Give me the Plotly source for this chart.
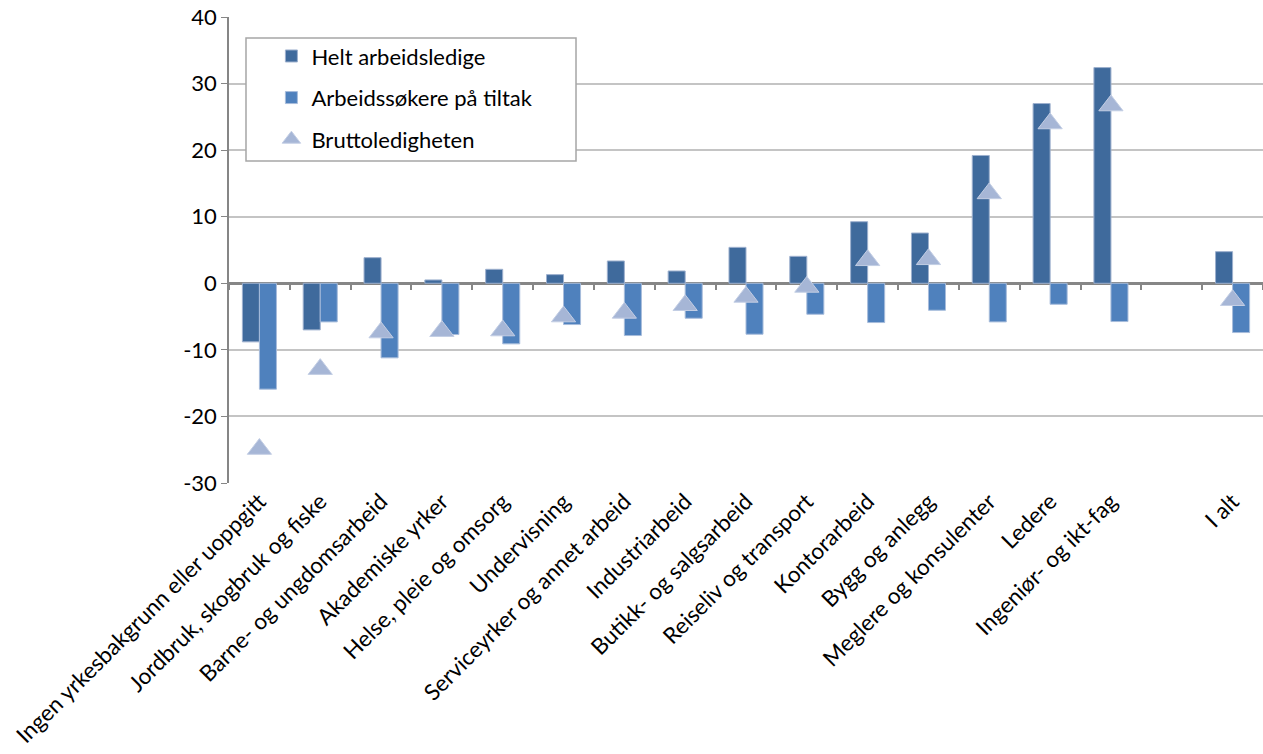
import plotly.graph_objects as go

categories = [
    "Ingen yrkesbakgrunn eller uoppgitt",
    "Jordbruk, skogbruk og fiske",
    "Barne- og ungdomsarbeid",
    "Akademiske yrker",
    "Helse, pleie og omsorg",
    "Undervisning",
    "Serviceyrker og annet arbeid",
    "Industriarbeid",
    "Butikk- og salgsarbeid",
    "Reiseliv og transport",
    "Kontorarbeid",
    "Bygg og anlegg",
    "Meglere og konsulenter",
    "Ledere",
    "Ingeniør- og ikt-fag",
    " ",
    "I alt",
]
helt = [-8.8, -7.0, 3.85, 0.5, 2.1, 1.3, 3.35, 1.85, 5.4, 4.05, 9.25, 7.55, 19.2, 27.0, 32.4, None, 4.75]
tiltak = [-15.9, -5.8, -11.2, -7.7, -9.1, -6.2, -7.85, -5.25, -7.65, -4.65, -5.9, -4.05, -5.8, -3.15, -5.75, None, -7.4]
brutto = [-24.9, -12.9, -7.4, -7.2, -7.1, -5.0, -4.45, -3.3, -2.05, -0.55, 3.45, 3.6, 13.5, 24.0, 26.7, None, -2.55]
yticks = [-30, -20, -10, 0, 10, 20, 30, 40]

FONT = "Lato"
xrange = [-0.5, len(categories) - 0.5]

fig = go.Figure()
fig.add_trace(go.Bar(
    x=categories, y=helt, name="Helt arbeidsledige", legendgroup="a",
    marker=dict(color="#3F6A9C", line=dict(color="#9DB0CE", width=1)),
))
fig.add_trace(go.Bar(
    x=categories, y=tiltak, name="Arbeidssøkere på tiltak", legendgroup="b",
    marker=dict(color="#4F81BD", line=dict(color="#A7BCDB", width=1)),
))
fig.add_trace(go.Scatter(
    x=categories, y=brutto, name="Bruttoledigheten", legendgroup="c",
    mode="markers",
    marker=dict(symbol="triangle-up", size=21, color="#A6B6D6",
                line=dict(color="#C3CEE4", width=1)),
))
# invisible trace to carry tick marks along zero line
fig.add_trace(go.Scatter(
    x=categories, y=[0] * len(categories), xaxis="x2", mode="markers",
    marker=dict(opacity=0), showlegend=False, hoverinfo="skip",
))

# legend frame (white box with grey border)
fig.add_shape(
    type="rect", xref="paper", yref="paper",
    x0=0.01644, x1=0.3356, y0=0.691, y1=0.9549,
    line=dict(color="#A6A6A6", width=1.5), fillcolor="white", layer="above",
)

fig.update_layout(
    width=1263, height=754,
    margin=dict(l=229, r=0, t=17, b=271),
    paper_bgcolor="white", plot_bgcolor="white",
    font=dict(family=FONT, size=22, color="black"),
    barmode="group", bargap=0.44, bargroupgap=0,
    showlegend=True,
    legend=dict(
        x=0.041, y=0.961, xanchor="left", yanchor="top",
        borderwidth=0, bgcolor="rgba(0,0,0,0)",
        font=dict(family=FONT, size=22),
        tracegroupgap=10, itemwidth=30,
    ),
    xaxis=dict(
        type="category", categoryorder="array", categoryarray=categories,
        range=xrange,
        tickangle=-45, ticks="", showline=False, showgrid=False,
        tickfont=dict(family=FONT, size=22.5), automargin=False,
        ticklabeloverflow="allow",
    ),
    xaxis2=dict(
        type="category", categoryorder="array", categoryarray=categories,
        overlaying="x", matches="x", anchor="free", position=3 / 7,
        side="bottom", showticklabels=False, ticks="outside", tickson="boundaries",
        ticklen=6, tickwidth=2, tickcolor="#868686", showline=False, showgrid=False,
        automargin=False,
    ),
    yaxis=dict(
        range=[-30, 40], tickvals=yticks, ticktext=[str(v) for v in yticks],
        showgrid=True, gridcolor="#C4C4C4", gridwidth=1.5,
        zeroline=True, zerolinecolor="#868686", zerolinewidth=2.5,
        showline=True, linecolor="#868686", linewidth=1.5,
        ticks="outside", ticklen=6, tickcolor="#868686",
        tickfont=dict(family=FONT, size=22), automargin=False,
        ticklabeloverflow="allow",
    ),
)

fig.write_html(
    "out.html",
    config={"displayModeBar": False},
    post_script="document.body.style.margin='0px'; document.body.style.overflow='hidden';",
)
